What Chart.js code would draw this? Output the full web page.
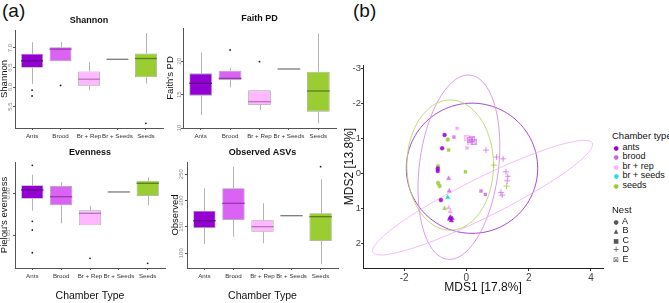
<!DOCTYPE html>
<html>
<head>
<meta charset="utf-8">
<script src="https://cdn.jsdelivr.net/npm/chart.js@4.4.1/dist/chart.umd.min.js"></script>
<style>
  body { margin: 0; background: #fff; font-family: "Liberation Sans", Arial, sans-serif; }
  #fig { position: relative; width: 669px; height: 303px; overflow: hidden; }
  #fig canvas { position: absolute; }
  .tag { position: absolute; top: 1px; font-size: 19px; line-height: 1; color: #111; }
  .legend { position: absolute; left: 612px; font-size: 9px; line-height: 9.5px; color: #111; white-space: nowrap; }
  .legend .head { font-size: 9.5px; margin-bottom: 2px; }
  .legend .mk { display: inline-block; width: 8px; text-align: center; font-family: "DejaVu Sans", sans-serif; }
</style>
</head>
<body>
<div id="fig">
  <div class="tag" style="left:2px">(a)</div>
  <div class="tag" style="left:353px">(b)</div>
</div>
<script>
// ---- alpha diversity (box plots) ----
const chamberTypes = ['Ants', 'Brood', 'Br + Rep', 'Br + Seeds', 'Seeds'];

const shannonLow  = [6.08, 6.66, 5.92, 6.71, 6.09];
const shannonQ1   = [6.49, 6.66, 6.03, 6.71, 6.25];
const shannonMed  = [6.67, 6.97, 6.20, 6.71, 6.73];
const shannonQ3   = [6.85, 7.02, 6.40, 6.71, 6.86];
const shannonHigh = [7.15, 7.15, 6.64, 6.71, 7.38];
const shannonOut  = [['Ants', 5.92], ['Ants', 5.77], ['Brood', 6.04], ['Seeds', 5.07]];
const shannonTicks = [5.5, 6.0, 6.5, 7.0];

const faithLow  = [11.95, 16.1, 12.7, 18.85, 10.7];
const faithQ1   = [14.85, 17.2, 13.45, 18.85, 12.45];
const faithMed  = [16.7, 17.45, 13.95, 18.85, 15.55];
const faithQ3   = [18.2, 18.6, 15.65, 18.85, 18.45];
const faithHigh = [21.35, 18.95, 15.65, 18.85, 24.2];
const faithOut  = [['Brood', 21.7], ['Br + Rep', 19.95]];
const faithTicks = [10, 15, 20];

const evenLow  = [0.8796, 0.8646, 0.8622, 0.9021, 0.8861];
const evenQ1   = [0.8940, 0.8861, 0.8622, 0.9021, 0.8973];
const evenMed  = [0.9045, 0.8964, 0.8765, 0.9021, 0.9125];
const evenQ3   = [0.9101, 0.9092, 0.8801, 0.9021, 0.9156];
const evenHigh = [0.9228, 0.9140, 0.8856, 0.9021, 0.9197];
const evenOut  = [['Ants', 0.934], ['Ants', 0.8669], ['Ants', 0.8565], ['Ants', 0.8293], ['Br + Rep', 0.8226], ['Seeds', 0.8166]];
const evenTicks = [0.85, 0.90];

const obsLow  = [117.5, 131.4, 118.8, 171.2, 79.6];
const obsQ1   = [147.9, 163.0, 140.8, 171.2, 123.2];
const obsMed  = [161.7, 194.7, 150.3, 171.2, 169.3];
const obsQ3   = [180.7, 223.1, 162.5, 171.2, 175.7];
const obsHigh = [223.1, 264.1, 194.7, 171.2, 240.2];
const obsOut  = [['Seeds', 264.1]];
const obsTicks = [100, 150, 200, 250];

// ---- beta diversity (MDS) ----
const mdsGroups = ['ants', 'brood', 'br + rep', 'br + seeds', 'seeds'];
const nests = ['A', 'B', 'C', 'D', 'E'];
const mdsX = [-0.70, -0.78, -0.92, -0.92, -0.82, -0.52, -0.46, -0.54, -0.48,
              -0.60, -0.91, -0.91, -0.86, -0.57, -0.03, -0.70, 0.88, 1.29,
              -0.57, -0.55, -0.40, 0.47, 0.61, 0.10, 0.17, 0.23,
              0.63, 0.97, 1.18, 1.27, 1.33, 1.31, 1.11, 1.15,
              -0.30, 0.02, -0.57, -0.52, 0.03, 0.13, -0.60];
const mdsY = [-1.09, -0.71, -0.13, -0.06, 0.77, 1.26, 1.29, 1.31, 1.36,
              -0.96, -0.20, 0.28, 0.37, -0.66, -0.04, 1.01, -0.23, 0.37,
              0.15, 0.51, -1.03, 0.51, 0.61, -0.95, -0.98, -0.90,
              -0.66, -0.46, -0.41, -0.04, 0.09, 0.22, 0.55, 0.63,
              -1.28, -0.72, 0.99, 1.10, -1.00, -0.88, 0.69];
const mdsChamber = ['ants', 'ants', 'ants', 'ants', 'ants', 'ants', 'ants', 'ants', 'ants',
                    'seeds', 'seeds', 'seeds', 'seeds', 'seeds', 'seeds', 'seeds', 'seeds', 'seeds',
                    'brood', 'brood', 'brood', 'brood', 'brood', 'brood', 'brood', 'brood',
                    'brood', 'brood', 'brood', 'brood', 'brood', 'brood', 'brood', 'brood',
                    'br + rep', 'br + rep', 'br + rep', 'br + rep', 'br + rep', 'br + rep', 'br + seeds'];
const mdsNest = ['A', 'A', 'A', 'A', 'A', 'B', 'B', 'B', 'B',
                 'A', 'A', 'A', 'A', 'C', 'C', 'B', 'D', 'D',
                 'B', 'B', 'C', 'C', 'C', 'E', 'E', 'E',
                 'D', 'D', 'D', 'D', 'D', 'D', 'D', 'D',
                 'C', 'C', 'B', 'B', 'E', 'E', 'B'];
const mdsXTicks = [-2, 0, 2, 4];
const mdsYTicks = [-3, -2, -1, 0, 1, 2];

// 95% ellipses: centre and two semi-axis vectors, in MDS units
const ellipseGroups  = ['ants', 'brood', 'br + rep', 'seeds'];
const ellipseCenterX = [0.18, -0.24, 0.52, -0.52];
const ellipseCenterY = [-0.14, -0.17, 0.70, -0.23];
const ellipseAxisA   = [[2.11, 0], [0.37, -2.63], [3.52, -1.56], [1.39, 0]];
const ellipseAxisB   = [[0, 1.86], [1.26, 0.14], [0.28, 0.50], [0, 1.86]];

// ---- styles ----
const boxFill = ['#9400D3', '#DA63F3', '#FFB8FF', '#00E5EE', '#9ACD32'];
const medianColors = ['#5E0C86', '#9B36B2', '#B873BC', '#7a7a7a', '#5C7D1C'];
const pointColors = ['rgba(148,0,211,0.85)', 'rgba(205,100,238,0.8)', 'rgba(246,168,246,0.9)', 'rgba(0,215,232,0.9)', 'rgba(154,205,50,0.85)'];
const legendColors = ['#9400D3', '#CC66EE', '#FFB0FF', '#22DDEE', '#9ACD32'];
const ellipseColors = ['#9A35D0', '#DA8CEC', '#F3B6F3', '#B8D66C'];

Chart.defaults.font.family = '"Liberation Sans", Arial, sans-serif';
Chart.defaults.color = '#222';
Chart.defaults.animation = false;

const fig = document.getElementById('fig');

function addCanvas(left, top, width, height) {
  const c = document.createElement('canvas');
  c.width = width; c.height = height;
  c.style.left = left + 'px'; c.style.top = top + 'px';
  fig.appendChild(c);
  return c;
}

const boxParts = {
  id: 'boxParts',
  beforeDatasetsDraw(chart, args, opts) {
    const { ctx, scales: { x, y } } = chart;
    ctx.save();
    ctx.strokeStyle = '#b3b3b3';
    ctx.lineWidth = 1;
    opts.low.forEach((lo, i) => {
      const px = Math.round(x.getPixelForValue(i + 1)) + 0.5;
      ctx.beginPath();
      ctx.moveTo(px, y.getPixelForValue(lo));
      ctx.lineTo(px, y.getPixelForValue(opts.q1[i]));
      ctx.moveTo(px, y.getPixelForValue(opts.q3[i]));
      ctx.lineTo(px, y.getPixelForValue(opts.high[i]));
      ctx.stroke();
    });
    ctx.restore();
  },
  afterDatasetsDraw(chart, args, opts) {
    const { ctx, scales: { y } } = chart;
    const bars = chart.getDatasetMeta(0).data;
    ctx.save();
    ctx.lineWidth = 1.3;
    opts.median.forEach((m, i) => {
      const bar = bars[i];
      const py = y.getPixelForValue(m);
      ctx.strokeStyle = medianColors[i];
      ctx.beginPath();
      ctx.moveTo(bar.x - bar.width / 2, py);
      ctx.lineTo(bar.x + bar.width / 2, py);
      ctx.stroke();
    });
    ctx.restore();
  }
};

function boxPanel(p) {
  const titleH = 18, yAxisW = p.area.left - p.left, xAxisH = p.bottomH;
  const top = p.area.top - titleH;
  const canvas = addCanvas(p.left, top, p.area.right + 6 - p.left, p.area.bottom + xAxisH - top);
  new Chart(canvas, {
    type: 'bar',
    data: {
      datasets: [{
        type: 'bar',
        data: chamberTypes.map((c, i) => ({ x: i + 1, y: [p.q1[i], p.q3[i]] })),
        backgroundColor: boxFill,
        borderColor: '#a3a3a3',
        borderWidth: 0.8,
        borderSkipped: false,
        barPercentage: 0.77,
        categoryPercentage: 1
      }, {
        type: 'scatter',
        data: p.out.map(([c, v]) => ({ x: chamberTypes.indexOf(c) + 1, y: v })),
        backgroundColor: '#222',
        borderWidth: 0,
        pointRadius: 0.9
      }]
    },
    options: {
      responsive: false,
      layout: { padding: { right: 6 } },
      plugins: {
        legend: { display: false },
        tooltip: { enabled: false },
        title: {
          display: true, text: p.title, fullSize: false,
          font: { size: 9, weight: 'bold' }, color: '#111',
          padding: { top: 3.2, bottom: 4 }
        },
        boxParts: { low: p.low, q1: p.q1, median: p.med, q3: p.q3, high: p.high }
      },
      scales: {
        x: {
          type: 'linear', min: 0.4, max: 5.6, offset: false,
          afterBuildTicks: s => { s.ticks = chamberTypes.map((c, i) => ({ value: i + 1 })); },
          afterFit: s => { s.height = xAxisH; },
          ticks: { callback: v => chamberTypes[v - 1], font: { size: 6.2 }, color: '#333', padding: 3, maxRotation: 0, autoSkip: false },
          grid: { display: true, offset: false, drawOnChartArea: false, tickLength: 2, color: '#555' },
          border: { display: true, color: '#555', width: 1 },
          title: { display: p.showXTitle, text: 'Chamber Type', font: { size: 10.5 }, color: '#111', padding: { top: 0, bottom: 1 } }
        },
        y: {
          min: p.min, max: p.max,
          afterBuildTicks: s => { s.ticks = p.ticks.map(v => ({ value: v })); },
          afterFit: s => { s.width = yAxisW; },
          ticks: { callback: v => v.toFixed(p.dec), font: { size: 6 }, color: '#8a8a8a', padding: -1.5, minRotation: 90, maxRotation: 90, crossAlign: 'center', autoSkip: false },
          grid: { display: true, drawOnChartArea: false, tickLength: 2, color: '#555' },
          border: { display: true, color: '#555', width: 1 },
          title: { display: true, text: p.yTitle, font: { size: 9.5, lineHeight: 1 }, color: '#111', padding: 0 }
        }
      }
    },
    plugins: [boxParts]
  });
}

boxPanel({ title: 'Shannon', yTitle: 'Shannon', left: 0, area: { left: 15, right: 163, top: 30, bottom: 128 }, bottomH: 17, showXTitle: false,
  low: shannonLow, q1: shannonQ1, med: shannonMed, q3: shannonQ3, high: shannonHigh, out: shannonOut,
  min: 4.95, max: 7.46, ticks: shannonTicks, dec: 1 });
boxPanel({ title: 'Faith PD', yTitle: "Faith's PD", left: 166, area: { left: 183, right: 336, top: 28, bottom: 128 }, bottomH: 17, showXTitle: false,
  low: faithLow, q1: faithQ1, med: faithMed, q3: faithQ3, high: faithHigh, out: faithOut,
  min: 10, max: 25, ticks: faithTicks, dec: 0 });
boxPanel({ title: 'Evenness', yTitle: "Pielou's evenness", left: 0, area: { left: 15, right: 165, top: 162, bottom: 268 }, bottomH: 35, showXTitle: true,
  low: evenLow, q1: evenQ1, med: evenMed, q3: evenQ3, high: evenHigh, out: evenOut,
  min: 0.811, max: 0.938, ticks: evenTicks, dec: 2 });
boxPanel({ title: 'Observed ASVs', yTitle: 'Observed', left: 171, area: { left: 187, right: 338, top: 162, bottom: 268 }, bottomH: 35, showXTitle: true,
  low: obsLow, q1: obsQ1, med: obsMed, q3: obsQ3, high: obsHigh, out: obsOut,
  min: 72, max: 273, ticks: obsTicks, dec: 0 });

// ---- MDS panel ----
const crossedSquares = {};
function crossedSquare(color) {
  if (!crossedSquares[color]) {
    const c = document.createElement('canvas');
    c.width = c.height = 6;
    const g = c.getContext('2d');
    g.strokeStyle = color; g.lineWidth = 0.8;
    g.strokeRect(0.5, 0.5, 5, 5);
    g.beginPath();
    g.moveTo(0.5, 0.5); g.lineTo(5.5, 5.5);
    g.moveTo(5.5, 0.5); g.lineTo(0.5, 5.5);
    g.stroke();
    crossedSquares[color] = c;
  }
  return crossedSquares[color];
}
const nestStyle = { A: 'circle', B: 'triangle', C: 'rect', D: 'cross' };
const nestRadius = { A: 2, B: 2.6, C: 2.1, D: 3, E: 3 };

const ellipses = {
  id: 'ellipses',
  beforeDatasetsDraw(chart) {
    const { ctx, scales: { x, y } } = chart;
    ctx.save();
    ctx.lineWidth = 0.9;
    ellipseGroups.forEach((g, k) => {
      const cx = ellipseCenterX[k], cy = ellipseCenterY[k];
      const c0 = [x.getPixelForValue(cx), y.getPixelForValue(cy)];
      const a = [x.getPixelForValue(cx + ellipseAxisA[k][0]) - c0[0], y.getPixelForValue(cy + ellipseAxisA[k][1]) - c0[1]];
      const b = [x.getPixelForValue(cx + ellipseAxisB[k][0]) - c0[0], y.getPixelForValue(cy + ellipseAxisB[k][1]) - c0[1]];
      ctx.strokeStyle = ellipseColors[k];
      ctx.beginPath();
      for (let s = 0; s <= 120; s++) {
        const t = s / 120 * Math.PI * 2;
        const px = c0[0] + a[0] * Math.cos(t) + b[0] * Math.sin(t);
        const py = c0[1] + a[1] * Math.cos(t) + b[1] * Math.sin(t);
        if (s === 0) ctx.moveTo(px, py); else ctx.lineTo(px, py);
      }
      ctx.stroke();
    });
    ctx.restore();
  }
};

const mdsCanvas = addCanvas(342, 55, 266, 241);
new Chart(mdsCanvas, {
  type: 'scatter',
  data: {
    datasets: mdsGroups.map((g, gi) => ({
      label: g,
      data: mdsX.map((v, i) => ({ x: v, y: mdsY[i], nest: mdsNest[i], group: mdsChamber[i] })).filter(d => d.group === g),
      backgroundColor: pointColors[gi],
      borderColor: pointColors[gi],
      pointStyle: c => (c.raw && c.raw.nest === 'E') ? crossedSquare(pointColors[gi]) : nestStyle[c.raw ? c.raw.nest : 'A'],
      pointRadius: c => nestRadius[c.raw ? c.raw.nest : 'A'],
      borderWidth: c => (c.raw && c.raw.nest === 'D') ? 0.9 : 0.4
    }))
  },
  options: {
    responsive: false,
    layout: { padding: { top: 10, right: 4 } },
    plugins: { legend: { display: false }, tooltip: { enabled: false } },
    scales: {
      x: {
        type: 'linear', min: -3.32, max: 4.39,
        afterBuildTicks: s => { s.ticks = mdsXTicks.map(v => ({ value: v })); },
        afterFit: s => { s.height = 28; },
        ticks: { font: { size: 10 }, color: '#444', padding: 1 },
        grid: { display: true, drawOnChartArea: false, tickLength: 3, color: '#333' },
        border: { display: true, color: '#222', width: 1 },
        title: { display: true, text: 'MDS1 [17.8%]', font: { size: 12 }, color: '#111', padding: { top: 0, bottom: 1 } }
      },
      y: {
        type: 'linear', min: -3.09, max: 2.71, reverse: true,
        afterBuildTicks: s => { s.ticks = mdsYTicks.map(v => ({ value: v })); },
        afterFit: s => { s.width = 21; },
        ticks: { font: { size: 9.5 }, color: '#444', padding: 0 },
        grid: { display: true, drawOnChartArea: false, tickLength: 2, color: '#333' },
        border: { display: true, color: '#222', width: 1 },
        title: { display: true, text: 'MDS2 [13.8%]', font: { size: 12 }, color: '#111', padding: 0 }
      }
    }
  },
  plugins: [ellipses]
});

// ---- legend ----
const nestGlyphs = { A: ['●', 6], B: ['▲', 6], C: ['■', 6], D: ['+', 8], E: ['⊠', 7] };
const leg1 = document.createElement('div');
leg1.className = 'legend';
leg1.style.top = '131px';
leg1.innerHTML = '<div class="head">Chamber type</div>' + mdsGroups.map((g, i) =>
  `<div><span class="mk" style="color:${legendColors[i]};font-size:6px">●</span> ${g}</div>`).join('');
fig.appendChild(leg1);
const leg2 = document.createElement('div');
leg2.className = 'legend';
leg2.style.top = '205px';
leg2.innerHTML = '<div class="head">Nest</div>' + nests.map(n =>
  `<div><span class="mk" style="color:#555;font-size:${nestGlyphs[n][1]}px">${nestGlyphs[n][0]}</span> ${n}</div>`).join('');
fig.appendChild(leg2);
</script>
</body>
</html>
